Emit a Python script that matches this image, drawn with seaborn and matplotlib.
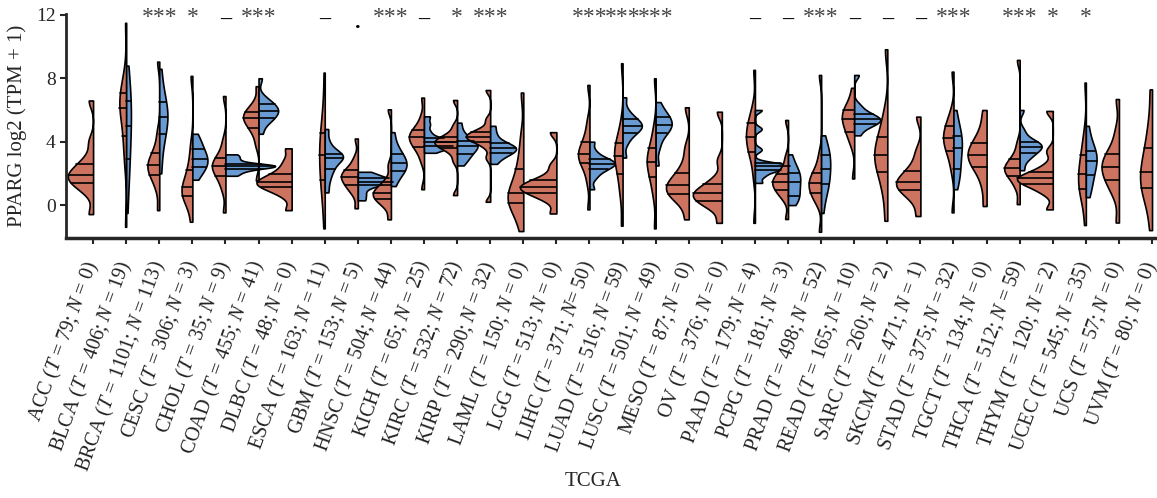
import matplotlib
matplotlib.use('Agg')
import matplotlib.pyplot as plt
import matplotlib.transforms as mtransforms
import numpy as np
import pandas as pd
import seaborn as sns

# TCGA cancer types, sample counts and significance marks
cancers = ['ACC', 'BLCA', 'BRCA', 'CESC', 'CHOL', 'COAD', 'DLBC', 'ESCA', 'GBM', 'HNSC', 'KICH',
           'KIRC', 'KIRP', 'LAML', 'LGG', 'LIHC', 'LUAD', 'LUSC', 'MESO', 'OV', 'PAAD', 'PCPG',
           'PRAD', 'READ', 'SARC', 'SKCM', 'STAD', 'TGCT', 'THCA', 'THYM', 'UCEC', 'UCS', 'UVM']
n_tumor = [79, 406, 1101, 306, 35, 455, 48, 163, 153, 504, 65, 532, 290, 150, 513, 371, 516,
           501, 87, 376, 179, 181, 498, 165, 260, 471, 375, 134, 512, 120, 545, 57, 80]
n_normal = [0, 19, 113, 3, 9, 41, 0, 11, 5, 44, 25, 72, 32, 0, 0, 50, 59, 49, 0, 0, 4, 3, 52,
            10, 2, 1, 32, 0, 59, 2, 35, 0, 0]
signif = ['', '', '***', '*', '-', '***', '', '-', '.', '***', '-', '*', '***', '', '', '***',
          '***', '***', '', '', '-', '-', '***', '-', '-', '-', '***', '', '***', '*', '*', '', '']

# representative log2(TPM + 1) values per group
tumor_values = [
    [-0.57, 0.8, 1.2, 1.41, 1.6, 1.75, 1.92, 2.1, 2.3, 2.59, 3.0, 4.0, 6.6],            # ACC
    [-1.37, 2.6, 3.7, 4.36, 5.5, 5.9, 6.15, 6.4, 6.7, 7.05, 7.4, 8.2, 11.5],           # BLCA
    [-0.32, 1.0, 1.6, 1.89, 2.15, 2.35, 2.53, 2.7, 2.95, 3.26, 3.7, 4.6, 9.05],        # BRCA
    [-1.05, 0.05, 0.35, 0.57, 0.8, 0.95, 1.16, 1.4, 1.75, 2.21, 2.8, 3.8, 8.15],       # CESC
    [-0.46, 0.9, 1.5, 1.83, 2.1, 2.3, 2.46, 2.6, 2.8, 3.0, 3.4, 4.1, 6.88],            # CHOL
    [1.55, 3.8, 4.5, 4.84, 5.1, 5.3, 5.47, 5.6, 5.75, 5.9, 6.1, 6.5, 7.5],             # COAD
    [-0.32, 0.6, 0.95, 1.12, 1.25, 1.36, 1.47, 1.6, 1.75, 1.96, 2.3, 2.8, 3.58],       # DLBC
    [-1.47, 0.3, 1.0, 1.58, 2.2, 2.7, 3.16, 3.6, 4.0, 4.53, 5.2, 6.2, 8.36],           # ESCA
    [-0.2, 0.7, 1.05, 1.26, 1.45, 1.65, 1.8, 1.92, 2.05, 2.2, 2.5, 3.0, 4.2],          # GBM
    [-0.9, -0.1, 0.2, 0.36, 0.5, 0.65, 0.78, 0.9, 1.05, 1.26, 1.6, 2.5, 6.04],         # HNSC
    [1.0, 2.8, 3.4, 3.68, 3.9, 4.1, 4.27, 4.4, 4.55, 4.74, 5.0, 5.6, 6.78],            # KICH
    [0.63, 2.8, 3.35, 3.6, 3.75, 3.85, 3.95, 4.05, 4.15, 4.3, 4.5, 5.0, 6.63],         # KIRC
    [0.21, 3.0, 3.7, 4.0, 4.12, 4.22, 4.32, 4.42, 4.52, 4.63, 4.85, 5.4, 7.26],        # KIRP
    [-1.64, -0.6, -0.1, 0.15, 0.35, 0.55, 0.78, 1.1, 1.6, 2.25, 3.0, 4.3, 7.1],        # LAML
    [-0.53, 0.3, 0.6, 0.78, 0.92, 1.05, 1.16, 1.27, 1.4, 1.58, 1.85, 2.5, 4.6],        # LGG
    [-0.27, 1.4, 2.2, 2.63, 2.85, 3.05, 3.22, 3.45, 3.7, 4.0, 4.5, 5.3, 7.58],         # LIHC
    [-1.3, 0.5, 1.3, 1.96, 2.45, 2.8, 3.1, 3.35, 3.6, 3.9, 4.3, 5.1, 8.95],            # LUAD
    [-1.47, 0.5, 1.3, 1.79, 2.2, 2.5, 2.74, 3.0, 3.25, 3.58, 4.1, 4.9, 8.0],           # LUSC
    [-0.9, 0.15, 0.5, 0.69, 0.9, 1.08, 1.26, 1.45, 1.7, 2.04, 2.6, 3.6, 6.17],         # MESO
    [-1.12, -0.2, 0.1, 0.27, 0.45, 0.6, 0.74, 0.88, 1.05, 1.31, 1.7, 2.8, 5.89],       # OV
    [-1.12, 1.8, 2.9, 3.37, 3.7, 4.0, 4.27, 4.55, 4.85, 5.16, 5.5, 6.2, 8.53],         # PAAD
    [-0.88, 0.4, 0.75, 0.95, 1.15, 1.32, 1.47, 1.62, 1.78, 1.96, 2.3, 3.0, 5.37],      # PCPG
    [-1.68, 0.1, 0.5, 0.74, 0.98, 1.18, 1.37, 1.57, 1.78, 2.04, 2.4, 3.2, 8.21],       # PRAD
    [1.68, 3.8, 4.35, 4.63, 4.95, 5.2, 5.41, 5.6, 5.8, 5.99, 6.2, 6.6, 7.4],           # READ
    [-0.99, 0.6, 1.5, 2.11, 2.55, 2.85, 3.16, 3.5, 3.9, 4.32, 4.9, 5.9, 9.83],         # SARC
    [-0.69, 0.3, 0.7, 0.95, 1.15, 1.3, 1.47, 1.65, 1.88, 2.17, 2.6, 3.4, 5.58],        # SKCM
    [-0.46, 2.2, 3.0, 3.43, 3.75, 4.0, 4.21, 4.45, 4.7, 4.99, 5.3, 5.9, 8.42],         # STAD
    [-0.06, 1.2, 2.0, 2.42, 2.7, 2.95, 3.16, 3.4, 3.65, 3.94, 4.3, 5.0, 6.0],          # TGCT
    [0.06, 1.1, 1.55, 1.83, 2.05, 2.2, 2.32, 2.45, 2.62, 2.88, 3.2, 3.9, 9.16],        # THCA
    [-0.27, 0.75, 1.1, 1.31, 1.45, 1.57, 1.68, 1.8, 1.93, 2.11, 2.5, 3.4, 5.94],       # THYM
    [-1.26, 0.2, 0.65, 0.99, 1.35, 1.65, 1.96, 2.3, 2.7, 3.16, 3.7, 4.6, 7.73],        # UCEC
    [-1.1, 0.6, 1.2, 1.58, 1.9, 2.15, 2.42, 2.7, 2.95, 3.22, 3.7, 4.7, 6.69],          # UCS
    [-1.58, 0.0, 0.6, 1.05, 1.4, 1.75, 2.11, 2.5, 3.0, 3.58, 4.3, 5.4, 7.3],           # UVM
]
normal_values = [
    None,                                                                               # ACC
    [-0.5, 1.3, 2.2, 2.88, 3.8, 4.4, 5.0, 5.5, 6.1, 6.59, 7.1, 7.8, 8.8],              # BLCA
    [2.0, 3.2, 4.0, 4.48, 4.9, 5.2, 5.54, 5.8, 6.1, 6.48, 6.9, 7.5, 8.6],              # BRCA
    [1.6, 2.0, 2.25, 2.42, 2.6, 2.78, 2.93, 3.1, 3.3, 3.54, 3.8, 4.1, 4.5],            # CESC
    [1.85, 2.05, 2.2, 2.3, 2.38, 2.43, 2.47, 2.5, 2.55, 2.62, 2.8, 3.0, 3.2],          # CHOL
    [4.5, 5.1, 5.35, 5.5, 5.7, 5.82, 5.94, 6.05, 6.2, 6.36, 6.5, 6.8, 8.0],            # COAD
    None,                                                                               # DLBC
    [0.8, 1.5, 2.0, 2.3, 2.6, 2.85, 3.0, 3.1, 3.15, 3.2, 3.5, 4.0, 4.8],               # ESCA
    [0.3, 0.65, 1.0, 1.25, 1.35, 1.42, 1.48, 1.55, 1.62, 1.7, 1.8, 1.95, 2.1],         # GBM
    [1.2, 1.7, 2.0, 2.17, 2.35, 2.5, 2.67, 2.85, 3.0, 3.22, 3.5, 3.9, 4.6],            # HNSC
    [3.3, 3.5, 3.62, 3.7, 3.8, 3.88, 3.95, 4.02, 4.12, 4.22, 4.6, 5.1, 5.6],           # KICH
    [2.5, 2.85, 3.05, 3.25, 3.45, 3.6, 3.7, 3.8, 3.92, 4.05, 4.25, 4.6, 5.2],          # KIRC
    [2.6, 2.95, 3.15, 3.26, 3.4, 3.5, 3.58, 3.66, 3.76, 3.9, 4.1, 4.5, 5.0],           # KIRP
    None, None,                                                                         # LAML, LGG
    [1.0, 1.7, 2.05, 2.25, 2.4, 2.5, 2.6, 2.68, 2.78, 2.88, 3.05, 3.4, 4.0],           # LIHC
    [3.0, 3.9, 4.35, 4.57, 4.75, 4.88, 4.99, 5.1, 5.25, 5.41, 5.6, 6.0, 6.8],          # LUAD
    [2.5, 3.6, 4.2, 4.53, 4.75, 4.9, 5.05, 5.2, 5.38, 5.54, 5.75, 6.0, 6.5],           # LUSC
    None, None,                                                                         # MESO, OV
    [1.4, 1.8, 2.05, 2.21, 2.3, 2.38, 2.45, 2.52, 2.58, 2.63, 3.5, 4.8, 6.0],          # PAAD
    [0.0, 0.3, 0.45, 0.57, 0.9, 1.2, 1.43, 1.65, 1.85, 2.04, 2.25, 2.6, 3.2],          # PCPG
    [-0.5, 0.6, 1.0, 1.31, 1.65, 2.0, 2.3, 2.6, 2.9, 3.16, 3.45, 3.8, 4.4],            # PRAD
    [4.4, 4.8, 5.0, 5.12, 5.25, 5.34, 5.41, 5.5, 5.62, 5.75, 5.95, 6.3, 8.21],         # READ
    None, None,                                                                         # SARC, SKCM
    [1.0, 1.6, 2.0, 2.25, 2.75, 3.2, 3.58, 3.85, 4.1, 4.36, 4.7, 5.2, 6.0],            # STAD
    None,                                                                               # TGCT
    [2.2, 2.8, 3.1, 3.26, 3.45, 3.58, 3.68, 3.78, 3.88, 4.0, 4.2, 4.7, 6.0],           # THCA
    None,                                                                               # THYM
    [0.5, 1.1, 1.5, 1.89, 2.25, 2.5, 2.78, 3.0, 3.2, 3.43, 3.7, 4.2, 5.0],             # UCEC
    None, None,                                                                         # UCS, UVM
]

rows = []
for c, tv, nv in zip(cancers, tumor_values, normal_values):
    rows += [(c, 'Tumor', v, nv is not None) for v in tv]
    if nv is not None:
        rows += [(c, 'Normal', v, True) for v in nv]
df = pd.DataFrame(rows, columns=['cancer', 'group', 'value', 'paired'])


def robust_bw(kde):
    # Silverman-style bandwidth, expressed as a factor of the sample std
    d = kde.dataset[0]
    sd = d.std(ddof=1)
    q1, q3 = np.percentile(d, [25, 75])
    return 0.9 * min(sd, (q3 - q1) / 1.34) * len(d) ** -0.2 / sd


sns.set_style('ticks')
plt.rcParams['font.family'] = ['Liberation Serif', 'DejaVu Serif']
plt.rcParams['mathtext.fontset'] = 'custom'
plt.rcParams['mathtext.rm'] = 'Liberation Serif'
plt.rcParams['mathtext.it'] = 'Liberation Serif:italic'

fig = plt.figure(figsize=(11.57, 4.98), dpi=100)
ax = fig.add_axes([0.057, 0.522, 0.943, 0.45])

# split violins where normal tissue exists, single halves for tumour-only types
for paired, w in [(True, 3.0), (False, 2.2)]:
    sns.violinplot(data=df[df['paired'] == paired], x='cancer', y='value', hue='group',
                   order=cancers, hue_order=['Tumor', 'Normal'], split=True, dodge=True,
                   inner='quart', cut=0, bw_method=robust_bw, width=w,
                   density_norm='area', common_norm=True,
                   palette={'Tumor': '#CD7460', 'Normal': '#6A9AD2'}, saturation=1,
                   linewidth=1.2, linecolor='black',
                   inner_kws=dict(dashes=(), color='black', linewidth=1.2),
                   legend=False, ax=ax)

for i, s in enumerate(signif):
    if s.startswith('*'):
        ax.text(i, 11.85, s, ha='center', va='center', fontsize=17, color='#444444', clip_on=False)
    elif s == '-':
        ax.text(i, 11.7, '–', ha='center', va='center', fontsize=16, fontweight='bold',
                color='black', clip_on=False)
    elif s:
        ax.text(i, 11.5, s, ha='center', va='center', fontsize=16, fontweight='bold',
                color='black', clip_on=False)

labels = [f'{c} ($T$ = {t}; $N$ = {n})' for c, t, n in zip(cancers, n_tumor, n_normal)]
labels[cancers.index('LIHC')] = 'LIHC ($T$ = 371; $N$= 50)'
ax.set_xticks(range(len(cancers)))
ax.set_xticklabels(labels, rotation=70, ha='right', va='center', rotation_mode='anchor',
                   fontsize=14.5, color='#222222')
shift = mtransforms.ScaledTranslation(-10 / 100, 0, fig.dpi_scale_trans)
for lab in ax.get_xticklabels():
    lab.set_transform(lab.get_transform() + shift)
ax.set_xlim(-0.82, 32.15)
ax.set_ylim(-2.08, 12.06)
ax.set_yticks([0, 4, 8, 12])
ax.tick_params(axis='y', labelsize=14, width=1.5, length=4)
ax.tick_params(axis='x', width=1.5, length=4, pad=13)
ax.set_xlabel('TCGA', fontsize=15)
ax.xaxis.set_label_coords(0.483, -1.085)
ax.xaxis.label.set_va('center')
ax.set_ylabel('PPARG log2 (TPM + 1)', fontsize=15, labelpad=6)
sns.despine(ax=ax)
ax.spines['left'].set_linewidth(2)
ax.spines['bottom'].set_linewidth(2.5)

fig.savefig('out.png', dpi=100)
